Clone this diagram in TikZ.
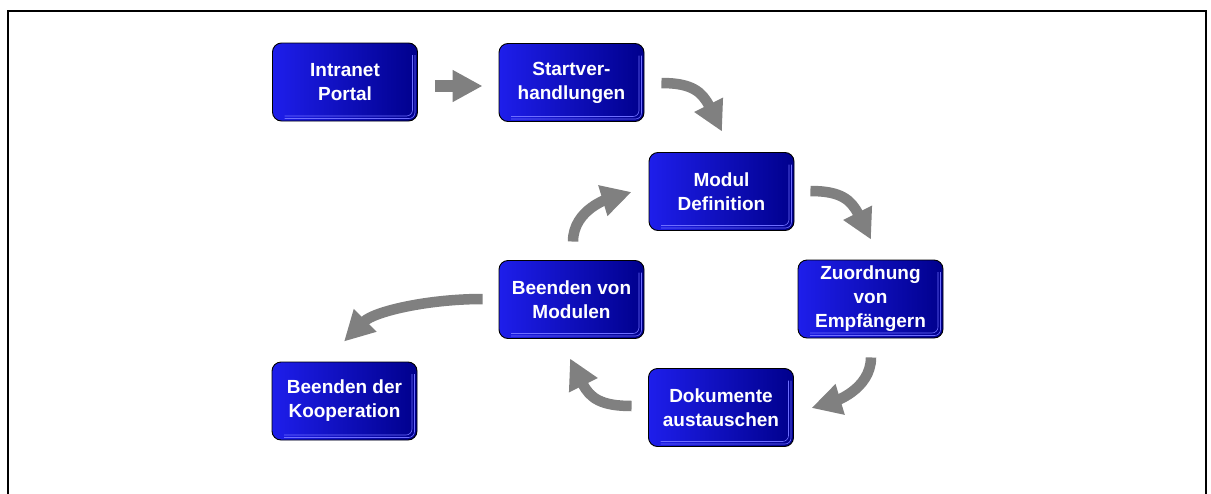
\documentclass[tikz,border=0pt]{standalone}
\usepackage{fontspec}
\setmainfont{Liberation Sans}
\usetikzlibrary{arrows.meta,calc}

\definecolor{boxlight}{RGB}{30,30,235}
\definecolor{boxdark}{RGB}{0,0,140}
\definecolor{rimblue}{RGB}{110,110,255}
\definecolor{flowgray}{RGB}{128,128,128}

\tikzset{
  stepbox/.style={
    rounded corners=9pt, draw=black, line width=0.9pt,
    left color=boxlight, right color=boxdark,
    minimum width=145pt, minimum height=78pt, inner sep=0pt,
    align=center, text=white,
    font=\bfseries\fontsize{19}{24}\selectfont,
    path picture={
      \foreach \d in {2.5,5}{
        \draw[rimblue, line width=0.6pt, rounded corners=6pt]
          ([xshift=-\d pt, yshift=-12pt]path picture bounding box.north east)
          |- ([xshift=12pt, yshift=\d pt]path picture bounding box.south west);
      }
    }
  },
  flow/.style={
    draw=flowgray, line width=10.5pt,
    -{Triangle[length=30pt,width=30pt]}
  }
}

\begin{document}
\begin{tikzpicture}[x=1pt,y=-1pt]
\useasboundingbox (0,0) rectangle (1211,493);

% outer frame (open at the bottom)
\draw[line width=2pt] (8,500) -- (8,11) -- (1206,11) -- (1206,500);

% process steps
\node[stepbox] (intra) at (345,82)     {Intranet\\Portal};
\node[stepbox] (start) at (571.5,82.5) {Startver-\\handlungen};
\node[stepbox] (modul) at (721.5,191.5) {Modul\\Definition};
\node[stepbox] (zuord) at (870.5,299)  {Zuordnung\\von\\Empfängern};
\node[stepbox] (doku)  at (721,407.5)  {Dokumente\\austauschen};
\node[stepbox] (bvm)   at (571.5,299.5) {Beenden von\\Modulen};
\node[stepbox] (bdk)   at (344.5,401)  {Beenden der\\Kooperation};

% flow arrows
\draw[flow, line width=12pt] ($(intra.east)+(17,4)$) -- ($(start.west)+(-16,3.5)$);
\draw[flow] ($(start.east)+(17,0.5)$) .. controls +(30,0) and +(-20,-40) .. ($(modul.north)+(0.5,-20.5)$);
\draw[flow] ($(modul.east)+(16,-0.5)$) .. controls +(30,0) and +(-20,-40) .. ($(zuord.north)+(0.5,-20)$);
\draw[flow] ($(zuord.south)+(0.5,19)$) .. controls +(0,33) and +(20,-6) .. ($(doku.east)+(17.5,0.5)$);
\draw[flow] ($(doku.west)+(-16.5,-1.5)$) .. controls +(-30,0) and +(20,40) .. ($(bvm.south)+(-1.5,19.5)$);
\draw[flow] ($(bvm.north)+(1.5,-18.5)$) .. controls +(0,-33) and +(-20,6) .. ($(modul.west)+(-17,0.5)$);
\draw[flow] ($(bvm.west)+(-16,-0.5)$) .. controls +(-55,0) and +(30,-30) .. ($(bdk.north)+(-0.5,-20)$);
\end{tikzpicture}
\end{document}
